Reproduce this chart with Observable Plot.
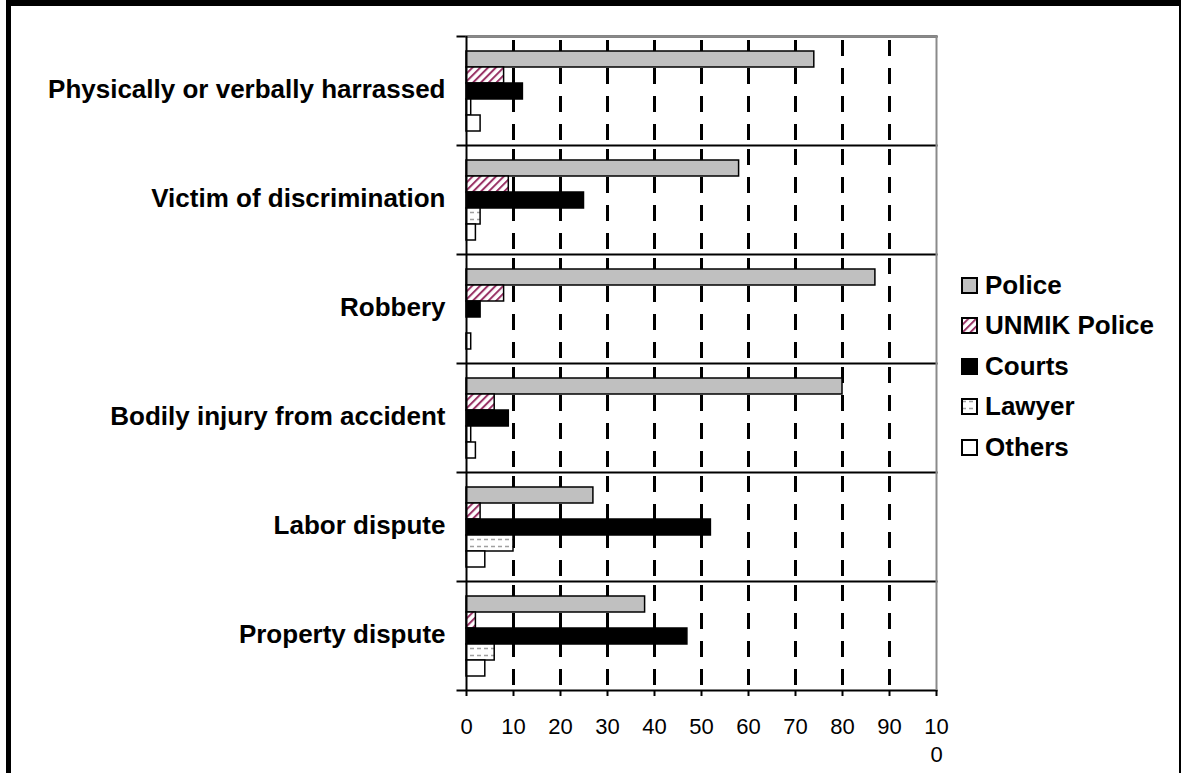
<!DOCTYPE html>
<html>
<head>
<meta charset="utf-8">
<script src="https://cdn.jsdelivr.net/npm/d3@7"></script>
<script src="https://cdn.jsdelivr.net/npm/@observablehq/plot@0.6"></script>
<style>
html, body { margin: 0; padding: 0; background: #fff; width: 1181px; height: 773px; overflow: hidden; font-family: "Liberation Sans", Arial, sans-serif; }
#border { position: absolute; left: 6px; top: 0px; width: 1175px; height: 800px; border-left: 5px solid #000; border-top: 6px solid #000; border-right: 2px solid #000; box-sizing: border-box; }
#chart { position: absolute; left: 0; top: 0; }
#legend { position: absolute; left: 961px; top: 265px; }
.item { display: flex; align-items: center; height: 40.5px; font-weight: bold; font-size: 26px; color: #000; white-space: nowrap; }
.item svg { margin-right: 7px; display: block; }
</style>
</head>
<body>
<svg width="0" height="0" style="position:absolute">
  <defs>
    <pattern id="hatch" patternUnits="userSpaceOnUse" width="5.5" height="5.5" patternTransform="rotate(45)">
      <rect width="5.5" height="5.5" fill="#fff"/>
      <line x1="1" y1="0" x2="1" y2="5.5" stroke="#993366" stroke-width="2"/>
    </pattern>
    <pattern id="dots" patternUnits="userSpaceOnUse" width="7" height="7">
      <rect width="7" height="7" fill="#fff"/>
      <line x1="1" y1="3.5" x2="5" y2="3.5" stroke="#a0a0a0" stroke-width="1.5"/>
    </pattern>
  </defs>
</svg>
<div id="border"></div>
<div id="chart"></div>
<div id="legend"></div>
<script>
const categories = [
  "Physically or verbally harrassed",
  "Victim of discrimination",
  "Robbery",
  "Bodily injury from accident",
  "Labor dispute",
  "Property dispute"
];
const series = ["Police", "UNMIK Police", "Courts", "Lawyer", "Others"];
const police = [74, 58, 87, 80, 27, 38];
const unmikPolice = [8, 9, 8, 6, 3, 2];
const courts = [12, 25, 3, 9, 52, 47];
const lawyer = [1, 3, 0, 1, 10, 6];
const others = [3, 2, 1, 2, 4, 4];
const fills = ["#c0c0c0", "url(#hatch)", "#000000", "url(#dots)", "#ffffff"];
const xTicks = [0, 10, 20, 30, 40, 50, 60, 70, 80, 90, 100];

const seriesValues = [police, unmikPolice, courts, lawyer, others];
const data = categories.flatMap((c, i) =>
  series.map((s, j) => ({category: c, series: s, value: seriesValues[j][i]}))
);
const gridTicks = xTicks.filter(d => d > 0 && d < 100);

const chart = Plot.plot({
  width: 1181,
  height: 773,
  marginLeft: 466,
  marginRight: 245,
  marginTop: 34,
  marginBottom: 82,
  style: {background: "transparent", fontFamily: "Liberation Sans, Arial, sans-serif", color: "#000"},
  x: {domain: [0, 100]},
  y: {domain: series, paddingInner: 0, paddingOuter: 0.75, axis: null},
  fy: {domain: categories, padding: 0},
  color: {domain: series, range: fills},
  marks: [
    Plot.ruleX(gridTicks, {stroke: "#000", strokeWidth: 3, strokeDasharray: "16,12", strokeDashoffset: 24}),
    Plot.barX(data, {x: "value", y: "series", fy: "category", fill: "series", stroke: "#000", strokeWidth: 1.5}),
    Plot.frame({anchor: "bottom", stroke: "#000", strokeWidth: 2, insetLeft: -9}),
    Plot.frame({anchor: "top", stroke: "#000", strokeWidth: 2, insetLeft: -9, facetAnchor: "top"}),
    Plot.frame({anchor: "top", stroke: "#8a8a8a", strokeWidth: 2, facetAnchor: "top"}),
    Plot.ruleX([0], {stroke: "#000", strokeWidth: 2}),
    Plot.ruleX([100], {stroke: "#8a8a8a", strokeWidth: 2}),
    Plot.axisFy({anchor: "left", tickSize: 0, tickPadding: 21, fontSize: 26, fontWeight: "bold", label: null, dy: -1}),
    Plot.axisX({ticks: xTicks, tickFormat: d => d === 100 ? "10\n0" : String(d), tickSize: 6, tickPadding: 18, fontSize: 22, lineHeight: 1.25, label: null, strokeWidth: 2})
  ]
});
document.getElementById("chart").appendChild(chart);

const legend = document.getElementById("legend");
series.forEach((s, i) => {
  const item = document.createElement("div");
  item.className = "item";
  item.innerHTML = `<svg width="17" height="17"><rect x="1" y="1" width="15" height="15" fill="${fills[i]}" stroke="#000" stroke-width="2"/></svg><span>${s}</span>`;
  legend.appendChild(item);
});
</script>
</body>
</html>
